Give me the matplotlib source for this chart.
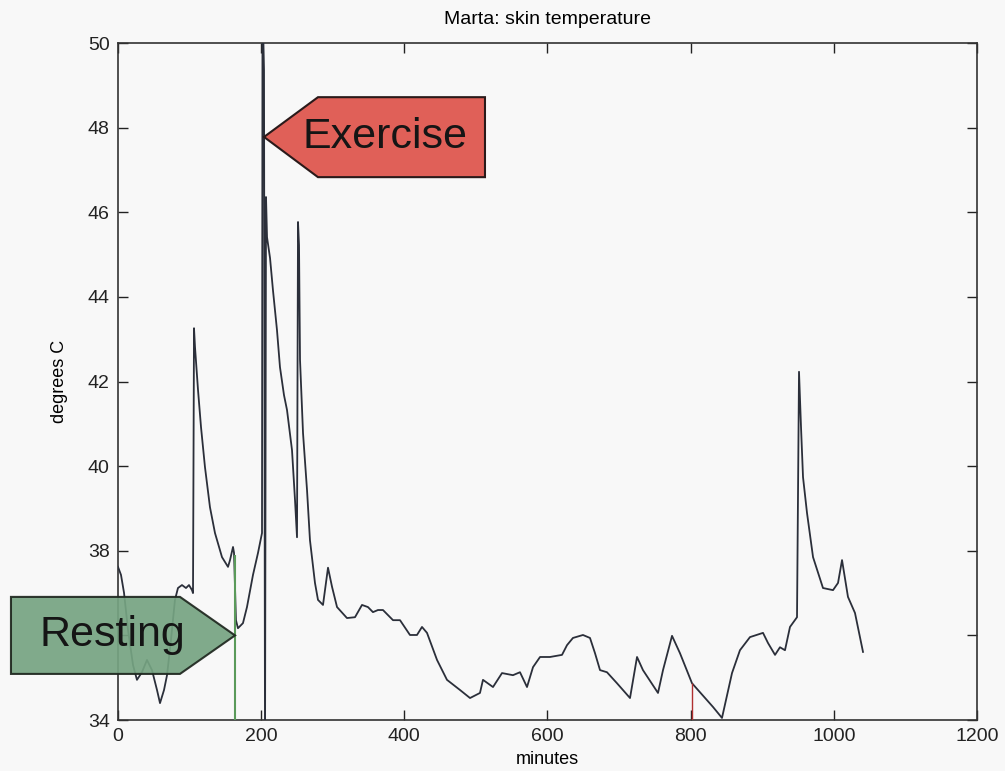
import numpy as np
import matplotlib
matplotlib.use("Agg")
import matplotlib.pyplot as plt
from matplotlib.patches import Polygon

plt.rcParams['font.family'] = ['Liberation Sans', 'DejaVu Sans']

# skin temperature trace (minutes, degrees C)
minutes = [0.0, 4.2, 8.4, 14.0, 21.0, 26.5, 33.5, 40.5, 47.5, 54.5, 58.7, 64.3, 68.5, 74.0,
           79.6, 83.8, 89.4, 95.0, 99.2, 103.4, 104.8, 106.2, 107.6, 111.8, 116.0, 121.5,
           128.5, 135.5, 145.3, 153.7, 156.5, 160.7, 162.1, 164.8, 167.6, 174.6, 180.2,
           188.6, 195.6, 201.2, 201.9, 204.0, 205.4, 206.8, 208.2, 212.4, 216.5, 222.1,
           226.3, 231.9, 236.1, 243.1, 247.3, 250.1, 251.5, 252.9, 254.3, 258.5, 264.1,
           268.2, 275.2, 279.4, 286.4, 293.4, 299.0, 306.0, 319.9, 331.1, 340.9, 349.2,
           356.2, 363.2, 370.2, 377.2, 384.2, 394.0, 407.9, 417.7, 424.7, 431.7, 445.7,
           459.6, 477.8, 491.8, 505.7, 509.9, 523.9, 536.5, 551.8, 561.6, 571.4, 579.8,
           589.6, 603.5, 620.3, 627.3, 635.6, 649.6, 659.4, 666.4, 673.4, 683.1, 697.1,
           715.3, 725.1, 733.4, 754.4, 761.4, 774.0, 785.1, 801.9, 831.2, 843.8, 857.8,
           868.9, 882.9, 901.1, 908.1, 917.9, 924.8, 931.8, 938.8, 948.6, 950.0, 951.4,
           954.2, 957.0, 962.6, 971.0, 984.9, 998.9, 1005.9, 1011.5, 1019.8, 1029.6, 1040.8]
temp = [37.62, 37.43, 37.01, 36.13, 35.30, 34.95, 35.13, 35.42, 35.18, 34.71, 34.40, 34.71,
        35.06, 35.89, 36.84, 37.12, 37.19, 37.12, 37.19, 37.07, 37.00, 43.26, 42.81, 41.80,
        40.92, 39.98, 39.03, 38.42, 37.85, 37.62, 37.78, 38.09, 37.95, 36.36, 36.17, 36.29,
        36.67, 37.43, 37.95, 38.42, 51.0, 49.36, 33.0, 46.36, 45.41, 44.92, 44.16, 43.22,
        42.34, 41.68, 41.33, 40.38, 39.20, 38.32, 45.77, 45.22, 42.51, 40.78, 39.43, 38.25,
        37.24, 36.84, 36.72, 37.60, 37.15, 36.67, 36.41, 36.43, 36.72, 36.67, 36.55, 36.60,
        36.60, 36.48, 36.36, 36.36, 36.01, 36.01, 36.20, 36.06, 35.42, 34.95, 34.71, 34.52,
        34.64, 34.95, 34.78, 35.11, 35.06, 35.13, 34.78, 35.25, 35.49, 35.49, 35.54, 35.77,
        35.94, 36.01, 35.94, 35.58, 35.18, 35.13, 34.87, 34.52, 35.49, 35.18, 34.64, 35.18,
        35.99, 35.58, 34.87, 34.31, 34.05, 35.11, 35.65, 35.96, 36.06, 35.82, 35.54, 35.72,
        35.65, 36.20, 36.43, 39.36, 42.23, 40.92, 39.74, 38.89, 37.85, 37.12, 37.07, 37.24,
        37.78, 36.91, 36.53, 35.61]

# the two short coloured drop-outs
green_x, green_top = 163.5, 37.9
red_x, red_top = 801.9, 34.87

xticks = [0, 200, 400, 600, 800, 1000, 1200]
yticks = [34, 36, 38, 40, 42, 44, 46, 48, 50]
# the 36 label sits under the Resting arrow in the original, so it is not shown
ytick_labels = ['34', '', '38', '40', '42', '44', '46', '48', '50']

fig = plt.figure(figsize=(10.05, 7.71), dpi=100, facecolor='#f8f8f8')
ax = fig.add_axes([0.1174, 0.0661, 0.8547, 0.8781])
ax.set_facecolor('#f8f8f8')

ax.plot(minutes, temp, color='#2b2f3a', lw=1.3, zorder=3)
ax.vlines(green_x, 34, green_top, color='#5a9a5a', lw=1.5, zorder=3)
ax.vlines(red_x, 34, red_top, color='#b03030', lw=1.0, zorder=3)

ax.set_xlim(0, 1200)
ax.set_ylim(34, 50)
ax.set_xticks(xticks)
ax.set_yticks(yticks)
ax.set_yticklabels(ytick_labels)
ax.tick_params(direction='in', length=7, top=True, right=True, labelsize=14,
               width=1.0, colors='#222222', pad=6)
for s in ax.spines.values():
    s.set_color('#333333')
    s.set_linewidth(1.2)

ax.set_title('Marta: skin temperature', fontsize=14, pad=14)
ax.set_xlabel('minutes', fontsize=13, labelpad=4)
ax.set_ylabel('degrees C', fontsize=13, labelpad=14)

# "Exercise" arrow pointing left at the spike
ex = Polygon([(204.0, 47.78), (279.4, 48.72), (512.7, 48.72), (512.7, 46.83), (279.4, 46.83)],
             closed=True, facecolor='#e06058', edgecolor='#2a1a1a', lw=1.5, zorder=5, clip_on=False)
ax.add_patch(ex)
ax.text(373, 47.78, 'Exercise', fontsize=31, ha='center', va='center', color='#151515', zorder=6)

# "Resting" arrow pointing right
rs = Polygon([(-149.5, 36.91), (86.6, 36.91), (163.5, 36.0), (86.6, 35.09), (-149.5, 35.09)],
             closed=True, facecolor='#76a482', edgecolor='#1e261e', lw=1.5, zorder=5, clip_on=False,
             alpha=0.92)
ax.add_patch(rs)
ax.text(-8, 36.0, 'Resting', fontsize=31, ha='center', va='center', color='#151515', zorder=6,
        clip_on=False)

fig.savefig('out.png', dpi=100, facecolor=fig.get_facecolor())
